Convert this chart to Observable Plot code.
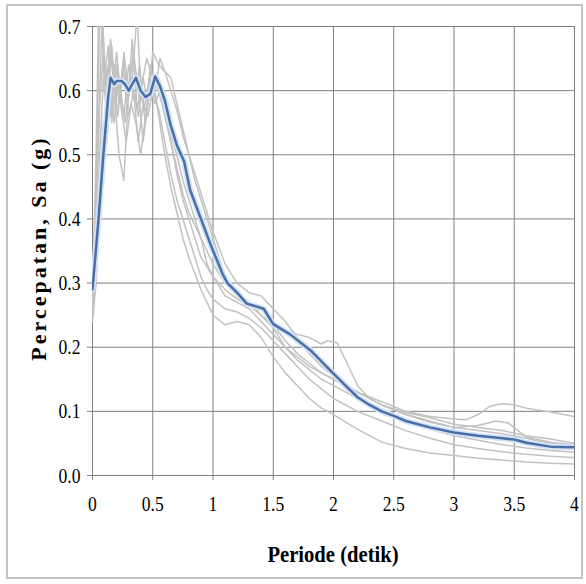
<!DOCTYPE html>
<html><head><meta charset="utf-8">
<script src="https://cdn.jsdelivr.net/npm/d3@7"></script>
<script src="https://cdn.jsdelivr.net/npm/@observablehq/plot@0.6"></script>
<style>body{margin:0;background:#fff} svg text{font-family:"Liberation Serif","Times New Roman",serif !important;}</style>
</head><body><div id="chart"></div>
<script>
const xTicks = [0, 0.5, 1, 1.5, 2, 2.5, 3, 3.5, 4];
const yTicks = [0, 0.1, 0.2, 0.3, 0.4, 0.5, 0.6, 0.7];
const xTitle = "Periode (detik)";
const yTitle = "Percepatan, Sa (g)";

// Mean spectrum (blue)
const meanT  = [0,0.05,0.09,0.13,0.15,0.18,0.2,0.24,0.27,0.3,0.33,0.36,0.4,0.44,0.48,0.52,0.56,0.6,0.65,0.7,0.76,0.81,0.9,0.98,1.08,1.12,1.2,1.28,1.42,1.5,1.64,1.81,1.95,2.1,2.2,2.3,2.4,2.5,2.6,2.8,3.0,3.2,3.4,3.5,3.6,3.8,4.0];
const meanSa = [0.29,0.40,0.50,0.59,0.62,0.61,0.615,0.615,0.61,0.60,0.61,0.62,0.60,0.59,0.595,0.622,0.607,0.585,0.545,0.515,0.49,0.445,0.40,0.36,0.314,0.30,0.285,0.268,0.26,0.236,0.22,0.195,0.168,0.14,0.122,0.11,0.10,0.093,0.085,0.075,0.067,0.062,0.058,0.056,0.051,0.045,0.044];

// Individual record spectra (grey)
const g1T  = [0,0.03,0.06,0.08,0.1,0.13,0.16,0.2,0.23,0.26,0.3,0.33,0.37,0.4,0.45,0.5,0.55,0.6,0.65,0.7,0.75,0.8,0.9,1.0,1.1,1.2,1.3,1.4,1.5,1.6,1.7,1.8,1.9,2.0,2.2,2.4,2.6,2.8,3.0,3.2,3.4,3.6,3.8,4.0];
const g1Sa = [0.28,0.45,0.72,0.75,0.62,0.67,0.55,0.64,0.58,0.66,0.60,0.68,0.57,0.60,0.65,0.62,0.60,0.56,0.52,0.48,0.44,0.41,0.37,0.33,0.30,0.28,0.27,0.26,0.235,0.21,0.19,0.175,0.16,0.15,0.13,0.11,0.095,0.085,0.075,0.07,0.065,0.058,0.05,0.045];

const g2T  = [0,0.03,0.06,0.09,0.12,0.15,0.18,0.22,0.26,0.3,0.34,0.38,0.42,0.46,0.5,0.55,0.6,0.65,0.7,0.75,0.8,0.9,1.0,1.1,1.2,1.3,1.4,1.5,1.6,1.7,1.8,1.9,2.0,2.2,2.4,2.6,2.8,3.0,3.2,3.4,3.6,3.8,4.0];
const g2Sa = [0.25,0.35,0.50,0.62,0.56,0.66,0.60,0.50,0.46,0.60,0.66,0.60,0.52,0.58,0.62,0.56,0.50,0.45,0.41,0.37,0.34,0.29,0.25,0.235,0.24,0.235,0.215,0.185,0.16,0.14,0.12,0.105,0.095,0.072,0.052,0.042,0.035,0.031,0.027,0.024,0.021,0.019,0.018];

const g3T  = [0,0.03,0.06,0.09,0.12,0.15,0.18,0.21,0.25,0.29,0.33,0.37,0.4,0.44,0.48,0.52,0.56,0.6,0.65,0.7,0.75,0.8,0.85,0.9,1.0,1.1,1.2,1.3,1.4,1.5,1.6,1.7,1.8,1.9,2.0,2.2,2.4,2.6,2.8,3.0,3.1,3.2,3.3,3.4,3.5,3.6,3.8,4.0];
const g3Sa = [0.27,0.40,0.58,0.66,0.60,0.68,0.62,0.56,0.64,0.58,0.62,0.72,0.60,0.55,0.64,0.60,0.65,0.63,0.60,0.57,0.53,0.50,0.47,0.44,0.38,0.33,0.30,0.285,0.28,0.26,0.24,0.215,0.19,0.17,0.155,0.13,0.115,0.10,0.092,0.088,0.087,0.095,0.108,0.112,0.11,0.105,0.099,0.092];

const g4T  = [0,0.03,0.06,0.08,0.1,0.13,0.16,0.19,0.22,0.26,0.3,0.34,0.38,0.42,0.46,0.5,0.55,0.6,0.65,0.7,0.75,0.8,0.85,0.9,0.95,1.0,1.05,1.1,1.2,1.3,1.4,1.5,1.6,1.7,1.8,1.9,1.95,2.03,2.1,2.2,2.3,2.4,2.6,2.8,3.0,3.2,3.35,3.45,3.6,3.8,4.0];
const g4Sa = [0.30,0.42,0.60,0.72,0.65,0.60,0.67,0.58,0.62,0.56,0.64,0.60,0.56,0.62,0.58,0.66,0.64,0.63,0.62,0.58,0.54,0.50,0.46,0.43,0.40,0.37,0.34,0.31,0.28,0.27,0.25,0.235,0.225,0.22,0.215,0.205,0.21,0.207,0.18,0.14,0.12,0.11,0.095,0.083,0.075,0.078,0.085,0.082,0.06,0.052,0.048];

const g5T  = [0,0.03,0.06,0.09,0.12,0.15,0.18,0.21,0.24,0.28,0.32,0.36,0.4,0.44,0.48,0.52,0.56,0.6,0.65,0.7,0.75,0.8,0.85,0.9,0.95,1.0,1.1,1.2,1.3,1.4,1.5,1.6,1.7,1.8,1.9,2.0,2.2,2.4,2.6,2.8,3.0,3.2,3.4,3.6,3.8,4.0];
const g5Sa = [0.26,0.33,0.45,0.55,0.52,0.60,0.55,0.63,0.57,0.52,0.58,0.55,0.50,0.56,0.60,0.58,0.60,0.57,0.53,0.50,0.46,0.43,0.40,0.37,0.33,0.31,0.28,0.27,0.26,0.24,0.22,0.20,0.185,0.17,0.16,0.15,0.13,0.11,0.098,0.09,0.08,0.075,0.07,0.062,0.057,0.05];

const g6T  = [0,0.03,0.05,0.07,0.1,0.13,0.16,0.2,0.23,0.27,0.31,0.35,0.39,0.43,0.47,0.51,0.55,0.6,0.65,0.7,0.75,0.8,0.85,0.9,1.0,1.1,1.2,1.3,1.4,1.5,1.6,1.7,1.8,1.9,2.0,2.2,2.4,2.6,2.8,3.0,3.2,3.4,3.6,3.8,4.0];
const g6Sa = [0.29,0.50,0.72,0.75,0.60,0.64,0.58,0.66,0.60,0.55,0.62,0.58,0.64,0.57,0.62,0.60,0.62,0.58,0.52,0.47,0.43,0.40,0.37,0.34,0.31,0.29,0.275,0.265,0.25,0.23,0.20,0.18,0.165,0.15,0.14,0.12,0.10,0.085,0.072,0.062,0.055,0.048,0.043,0.039,0.036];

const g7T  = [0,0.03,0.06,0.09,0.12,0.15,0.18,0.22,0.26,0.3,0.34,0.38,0.42,0.46,0.5,0.55,0.6,0.65,0.7,0.75,0.8,0.85,0.9,0.95,1.0,1.1,1.2,1.3,1.4,1.5,1.6,1.7,1.8,1.9,2.0,2.2,2.4,2.6,2.8,3.0,3.2,3.4,3.6,3.8,4.0];
const g7Sa = [0.24,0.30,0.42,0.50,0.62,0.56,0.64,0.58,0.65,0.56,0.60,0.52,0.58,0.56,0.60,0.57,0.52,0.47,0.43,0.40,0.37,0.34,0.31,0.29,0.275,0.26,0.255,0.245,0.23,0.21,0.19,0.17,0.15,0.135,0.12,0.10,0.085,0.07,0.058,0.048,0.042,0.037,0.033,0.03,0.028];

const greySeries = [[g1T,g1Sa],[g2T,g2Sa],[g3T,g3Sa],[g4T,g4Sa],[g5T,g5Sa],[g6T,g6Sa],[g7T,g7Sa]];
const greyRows = greySeries.flatMap(([T,S],i) => T.map((t,j) => ({t, sa:S[j], id:i})));
const meanRows = meanT.map((t,j) => ({t, sa:meanSa[j]}));

const fontStack = "'Liberation Serif', 'Times New Roman', serif";
const gridColor = "#7f7f7f";
const chart = Plot.plot({
  width: 586, height: 584,
  marginLeft: 92, marginRight: 12, marginTop: 26, marginBottom: 109,
  style: {fontFamily: fontStack, fontSize: "22px", background: "#fff", color: "#000"},
  x: {domain: [0, 4]},
  y: {domain: [0, 0.7]},
  marks: [
    Plot.gridX(xTicks, {stroke: gridColor, strokeOpacity: 1, strokeWidth: 1}),
    Plot.gridY(yTicks, {stroke: gridColor, strokeOpacity: 1, strokeWidth: 1}),
    Plot.axisX(xTicks, {tickSize: 5, tickPadding: 15, stroke: gridColor, fill: "#000", fontSize: 22, tickFormat: d => String(d), label: null}),
    Plot.axisY(yTicks, {tickSize: 5, tickPadding: 7, stroke: gridColor, fill: "#000", fontSize: 22, tickFormat: d3.format(".1f"), label: null}),
    Plot.line(greyRows, {x: "t", y: "sa", z: "id", stroke: "#c2c2c2", strokeWidth: 1.5, clip: true}),
    Plot.line(meanRows, {x: "t", y: "sa", stroke: "#d3e3f4", strokeWidth: 6, clip: true}),
    Plot.line(meanRows, {x: "t", y: "sa", stroke: "#4a6fa8", strokeWidth: 2.5, clip: true})
  ]
});

const svg = d3.select(chart).attr("font-family", fontStack);
// condensed look of the original tick labels
svg.selectAll('g[aria-label="x-axis tick label"] text, g[aria-label="y-axis tick label"] text')
  .each(function() {
    const t = this.getAttribute("transform") || "";
    this.setAttribute("transform", t + " scale(0.8,1)");
  });
svg.insert("rect", ":first-child")
  .attr("x", 7).attr("y", 5).attr("width", 575).attr("height", 573)
  .attr("fill", "none").attr("stroke", "#c4c4c4").attr("stroke-width", 2);
svg.append("text")
  .attr("transform", "translate(333,562) scale(0.86,1)").attr("text-anchor", "middle")
  .attr("font-family", fontStack)
  .attr("font-weight", "bold").attr("font-size", "24px").attr("fill", "#000")
  .text(xTitle);
svg.append("text")
  .attr("transform", "translate(46,248) rotate(-90)").attr("text-anchor", "middle")
  .attr("font-family", fontStack)
  .attr("font-weight", "bold").attr("font-size", "22px").attr("letter-spacing", "3px").attr("fill", "#000")
  .text(yTitle);

document.getElementById("chart").append(chart);
</script>
</body></html>
